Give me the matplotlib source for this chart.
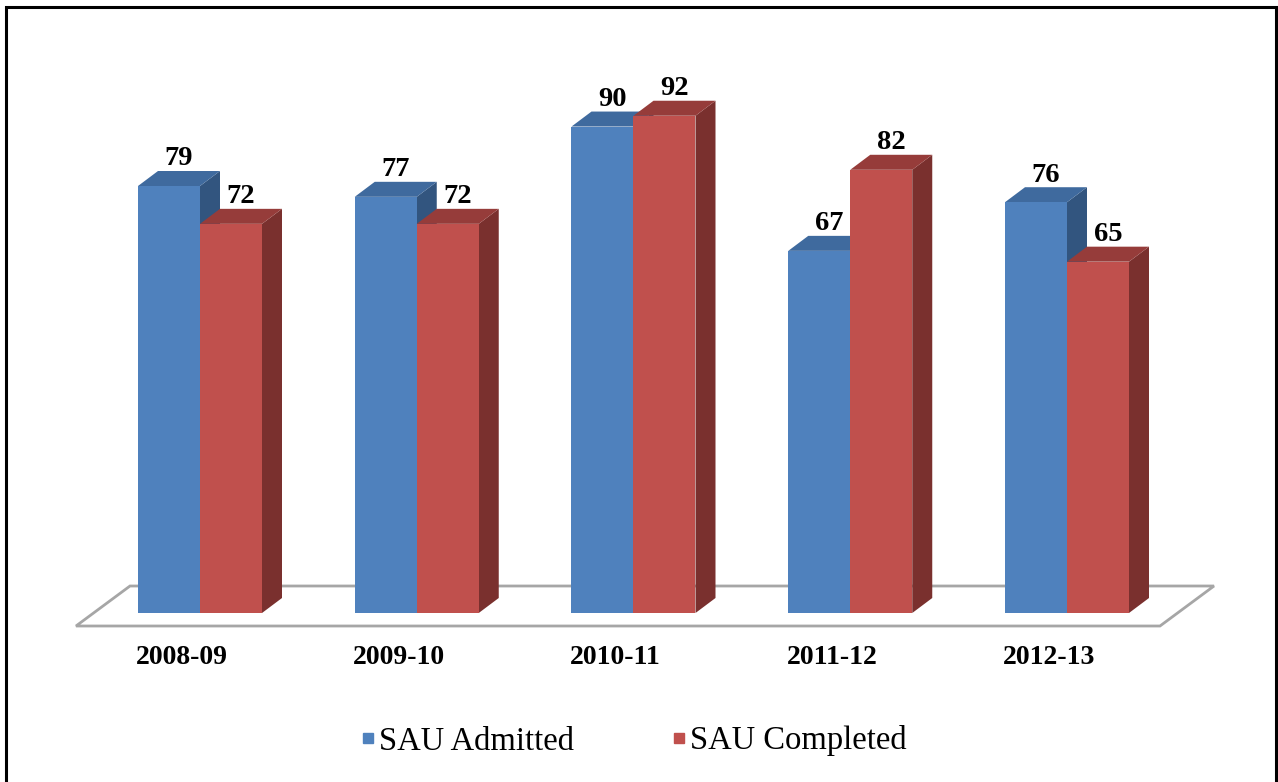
import matplotlib
matplotlib.use("Agg")
import matplotlib.pyplot as plt
from matplotlib.patches import Polygon, Rectangle
from matplotlib.lines import Line2D

plt.rcParams['font.family'] = ['Liberation Serif', 'DejaVu Serif']

years = ["2008-09", "2009-10", "2010-11", "2011-12", "2012-13"]
admitted = [79, 77, 90, 67, 76]
completed = [72, 72, 92, 82, 65]

series = [
    ("SAU Admitted", admitted, "#4F81BD", "#3F6A9E", "#32557F"),
    ("SAU Completed", completed, "#C0504D", "#963C3A", "#7A302E"),
]

W, H = 1278, 782
fig = plt.figure(figsize=(W / 100, H / 100), dpi=100)
ax = fig.add_axes([0, 0, 1, 1])

# pixel layout of the plotting region
x0_px, step_px = 200.0, 216.75     # first group centre, group spacing
y0_px, unit_px = 613.0, 5.405      # baseline row, pixels per unit
ax.set_xlim(-x0_px / step_px, (W - x0_px) / step_px)
ax.set_ylim(-(H - y0_px) / unit_px, y0_px / unit_px)
ax.axis("off")

def px_x(p):
    return p / step_px

def px_y(p):
    return p / unit_px

bar_w = px_x(62)
dx, dy = px_x(20), px_y(15)

# floor parallelogram
fl_front_y, fl_back_y = px_y(-13), px_y(27)
fl_x0, fl_x1 = px_x(76 - x0_px), px_x(1160 - x0_px)
fl_shift = px_x(54)
floor = Polygon([(fl_x0, fl_front_y), (fl_x1, fl_front_y),
                 (fl_x1 + fl_shift, fl_back_y), (fl_x0 + fl_shift, fl_back_y)],
                closed=True, facecolor="white", edgecolor="#A6A6A6",
                linewidth=2.0, zorder=1)
ax.add_patch(floor)

for i, year in enumerate(years):
    for k, (name, vals, c_front, c_top, c_side) in enumerate(series):
        v = vals[i]
        left = i - bar_w + k * bar_w
        right = left + bar_w
        z = 3 + k
        # side face
        ax.add_patch(Polygon([(right, 0), (right + dx, dy), (right + dx, v + dy), (right, v)],
                             closed=True, facecolor=c_side, edgecolor="none", zorder=z))
        # top face
        ax.add_patch(Polygon([(left, v), (right, v), (right + dx, v + dy), (left + dx, v + dy)],
                             closed=True, facecolor=c_top, edgecolor="none", zorder=z))
        # front face
        ax.add_patch(Rectangle((left, 0), bar_w, v, facecolor=c_front,
                               edgecolor="none", zorder=z))
        ax.annotate(str(v), xy=(left + bar_w / 2 + dx / 2, v + dy),
                    xytext=(0, 4), textcoords="offset points",
                    ha="center", va="baseline", fontsize=20.5,
                    fontweight="bold", zorder=10)
    ax.text(i - px_x(18), px_y(-45), year, ha="center", va="center",
            fontsize=20, fontweight="bold")

handles = [Line2D([], [], linestyle="none", marker="s", markersize=7.5,
                  markerfacecolor=s[2], markeredgecolor=s[2]) for s in series]
fig.legend(handles, [s[0] for s in series], loc="center",
           bbox_to_anchor=(634 / W, 1 - 741 / H), ncol=2, frameon=False,
           fontsize=23.5, handlelength=0.4, handletextpad=0.15,
           columnspacing=3.0, borderpad=0)

# outer frame
fig.patches.append(Rectangle((5.5 / W, -0.05), (1276 - 5.5) / W, 1.05 - 7.0 / H,
                             transform=fig.transFigure, fill=False,
                             edgecolor="black", linewidth=2.2))

fig.savefig("out.png", dpi=100)
